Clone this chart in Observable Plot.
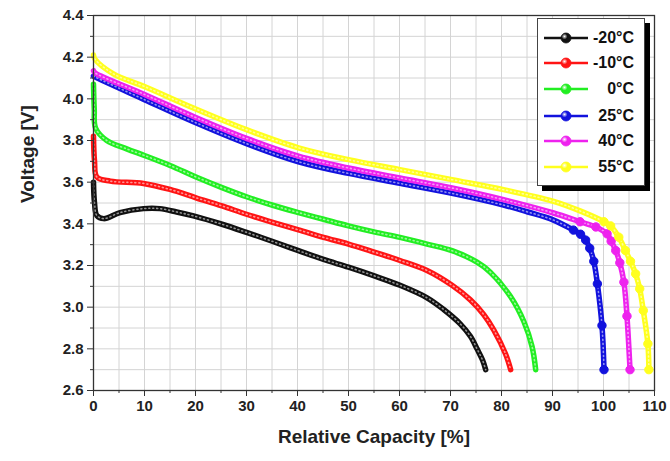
<!DOCTYPE html>
<html>
<head>
<meta charset="utf-8">
<script src="https://cdn.jsdelivr.net/npm/d3@7"></script>
<script src="https://cdn.jsdelivr.net/npm/@observablehq/plot@0.6"></script>
<style>
  html, body { margin: 0; padding: 0; background: #fff; }
  #wrap { position: relative; width: 670px; height: 461px; font-family: "Liberation Sans", Arial, sans-serif; }
  #legend { position: absolute; left: 537px; top: 18px; width: 106px; height: 166px;
            background: #fff; border: 1px solid #444; box-shadow: 5px 5px 0 #000; }
  .row { position: absolute; left: 0; width: 106px; height: 20px; }
  .row svg { position: absolute; left: 5px; top: 0; }
  .row span { position: absolute; right: 10px; top: 0; font-weight: bold; font-size: 16px; line-height: 20px; color: #111; }
</style>
</head>
<body>
<div id="wrap"><div id="chart"></div><div id="legend"></div></div>
<script>
// ---- data (relative capacity %, voltage V) ----
const seriesNames = ["-20°C", "-10°C", "0°C", "25°C", "40°C", "55°C"];
const seriesColors = ["#111111", "#ff1414", "#22ee22", "#1212dd", "#ee22ee", "#ffff1e"];

const sM20 = [[0,3.60],[0.2,3.50],[0.65,3.44],[2,3.425],[5.2,3.454],[9.8,3.473],[13,3.473],[16.3,3.457],[19.6,3.438],[25.2,3.398],[30,3.359],[35.3,3.314],[40.2,3.271],[45.1,3.229],[50,3.192],[55.2,3.149],[60.1,3.105],[65.4,3.045],[68.6,2.99],[71.9,2.92],[73.9,2.86],[75.2,2.80],[76.3,2.745],[76.9,2.70]];
const sM10 = [[0,3.82],[0.2,3.70],[0.65,3.625],[3.3,3.605],[9.8,3.594],[15,3.565],[20.1,3.525],[25.2,3.486],[30,3.446],[35.3,3.406],[40.2,3.371],[45.1,3.335],[50,3.303],[55.2,3.263],[60.1,3.224],[65.4,3.176],[70.3,3.105],[73.9,3.035],[76.5,2.965],[78.5,2.89],[80.8,2.775],[81.8,2.70]];
const s0 = [[0,4.07],[0.15,3.95],[0.4,3.86],[2.6,3.80],[6.5,3.76],[10.1,3.727],[15,3.68],[20.1,3.625],[25.2,3.574],[30,3.53],[35.3,3.488],[40.2,3.454],[45.1,3.422],[50,3.39],[55.2,3.36],[60.1,3.335],[65.4,3.303],[70.3,3.271],[75.2,3.216],[77.8,3.168],[81.8,3.05],[84.4,2.93],[86,2.81],[86.7,2.70]];
const s25 = [[0,4.11],[0.3,4.105],[10.1,3.995],[19.6,3.89],[30,3.785],[40.2,3.698],[50,3.642],[60.1,3.594],[70.3,3.546],[80.4,3.49],[85,3.458],[90.2,3.418],[94.1,3.37],[95.5,3.35],[96.5,3.322],[97.3,3.283],[98.1,3.22],[98.8,3.112],[99.7,2.912],[100.1,2.70]];
const s40 = [[0,4.135],[0.3,4.125],[10.1,4.02],[19.6,3.915],[30,3.81],[40.2,3.725],[50,3.668],[60.1,3.62],[70.3,3.572],[80.4,3.516],[90.2,3.452],[95.4,3.41],[98.5,3.385],[100.7,3.352],[101.5,3.317],[102.4,3.272],[103.2,3.213],[104.0,3.12],[104.6,2.957],[105.2,2.70]];
const s55 = [[0,4.21],[0.3,4.19],[3.9,4.12],[10.1,4.058],[19.6,3.956],[30,3.852],[40.2,3.765],[50,3.708],[60.1,3.66],[70.3,3.612],[80.4,3.564],[90.2,3.508],[95.4,3.462],[100.1,3.41],[101.4,3.39],[103.0,3.336],[104.3,3.272],[105.3,3.22],[106.3,3.16],[107.1,3.088],[107.8,2.984],[108.7,2.824],[108.9,2.70]];
const allSeries = [sM20, sM10, s0, s25, s40, s55];

const xTicks = [0,10,20,30,40,50,60,70,80,90,100,110];
const xMinor = [5,15,25,35,45,55,65,75,85,95,105];
const yTicks = [2.6,2.8,3.0,3.2,3.4,3.6,3.8,4.0,4.2,4.4];
const yMinor = [2.7,2.9,3.1,3.3,3.5,3.7,3.9,4.1,4.3];
const xGrid = [...xTicks, ...xMinor];
const yGrid = [...yTicks, ...yMinor];

// ---- build table ----
const rows = [];
allSeries.forEach((s, i) => s.forEach(([x, y]) => rows.push({series: seriesNames[i], x, y})));
// discrete markers visible on the steep tails of the warm curves
const markerRows = rows.filter(d => ["25°C","40°C","55°C"].includes(d.series) && d.x >= 94 && d.y < 3.42);

const color = {domain: seriesNames, range: seriesColors};

const chart = Plot.plot({
  width: 670, height: 461,
  marginLeft: 93, marginRight: 16, marginTop: 15, marginBottom: 71,
  x: {domain: [0, 110]},
  y: {domain: [2.6, 4.4]},
  color,
  style: {fontFamily: "'Liberation Sans', Arial, sans-serif", fontWeight: "bold", fontSize: "15px", color: "#222", background: "#fff"},
  marks: [
    Plot.gridX(xGrid, {stroke: "#d4d4d4", strokeOpacity: 1}),
    Plot.gridY(yGrid, {stroke: "#d4d4d4", strokeOpacity: 1}),
    Plot.line(rows, {x: "x", y: "y", z: "series", stroke: "series", strokeWidth: 5.5, curve: "catmull-rom", strokeLinecap: "round", strokeLinejoin: "round"}),
    Plot.line(rows, {x: "x", y: "y", z: "series", stroke: "#fff", strokeWidth: 1.6, strokeOpacity: 0.55, strokeDasharray: "1,3", curve: "catmull-rom"}),
    Plot.dot(markerRows, {x: "x", y: "y", r: 4.2, fill: "series", stroke: "series", strokeWidth: 1}),
    Plot.frame({stroke: "#333", strokeWidth: 1.3}),
    Plot.axisX(xTicks, {tickSize: 6, tickPadding: 4, label: null, stroke: "#333"}),
    Plot.axisX(xMinor, {tickSize: 3, tickFormat: () => "", label: null, stroke: "#333"}),
    Plot.axisY(yTicks, {tickSize: 6, tickPadding: 4, label: null, tickFormat: d3.format(".1f"), stroke: "#333"}),
    Plot.axisY(yMinor, {tickSize: 3, tickFormat: () => "", label: null, stroke: "#333"}),
    Plot.text(["Voltage [V]"], {frameAnchor: "left", rotate: -90, dx: -66, fontSize: 19, fontWeight: "bold", fill: "#222"}),
    Plot.text(["Relative Capacity [%]"], {frameAnchor: "bottom", dy: 52, fontSize: 19, fontWeight: "bold", fill: "#222"})
  ]
});
document.getElementById("chart").appendChild(chart);

// ---- legend ----
const legend = document.getElementById("legend");
const rowTops = [9, 34, 60, 87, 112, 138];
seriesNames.forEach((name, i) => {
  const c = seriesColors[i];
  const row = document.createElement("div");
  row.className = "row";
  row.style.top = rowTops[i] + "px";
  row.innerHTML = `<svg width="46" height="20"><defs><radialGradient id="g${i}" cx="35%" cy="35%" r="65%"><stop offset="0%" stop-color="#fff" stop-opacity="0.9"/><stop offset="45%" stop-color="${c}"/><stop offset="100%" stop-color="${c}"/></radialGradient></defs><line x1="1" y1="10" x2="45" y2="10" stroke="${c}" stroke-width="2.5"/><circle cx="23" cy="10" r="5" fill="url(#g${i})" stroke="${c}" stroke-width="0.8"/></svg><span>${name}</span>`;
  legend.appendChild(row);
});
</script>
</body>
</html>
